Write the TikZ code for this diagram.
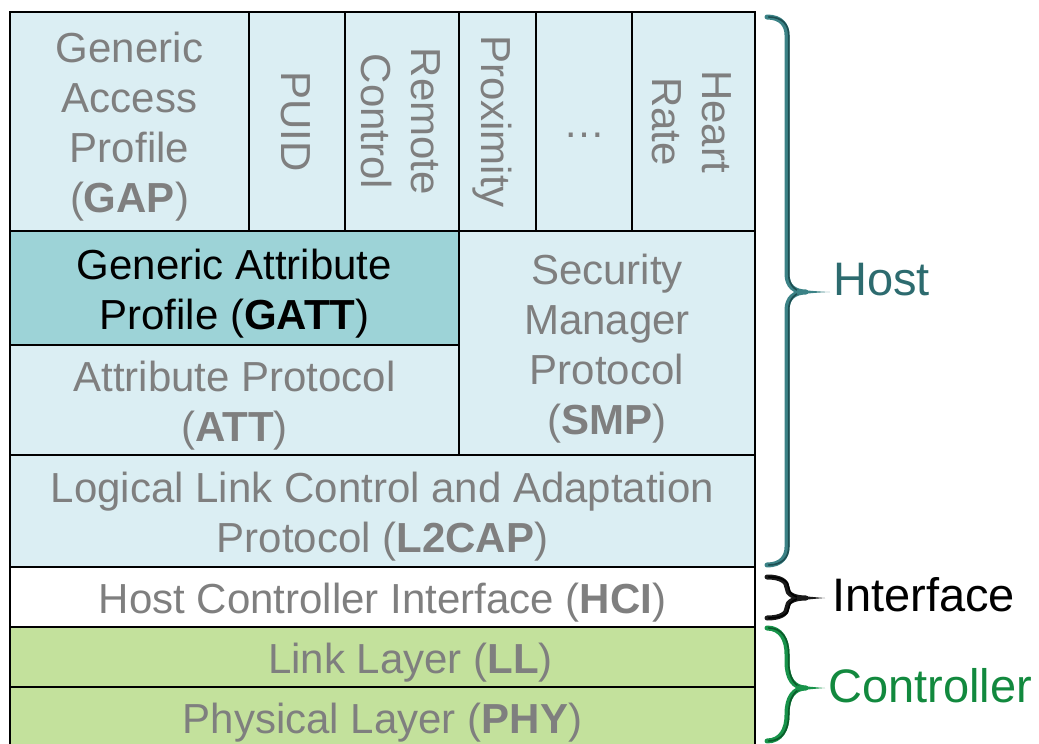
\documentclass[tikz,border=0pt]{standalone}
\usepackage{fontspec}
\setmainfont{Liberation Sans}

\definecolor{cellblue}{HTML}{DBEEF3}
\definecolor{gattfill}{HTML}{9DD3D7}
\definecolor{ctrlgreen}{HTML}{C3E19C}
\definecolor{txtgray}{HTML}{7F7F7F}
\definecolor{hostbrace}{HTML}{3B8286}
\definecolor{hostedge}{HTML}{1D4E51}
\definecolor{hosttext}{HTML}{2D6B6F}
\definecolor{ifbrace}{HTML}{1A1A1A}
\definecolor{ifedge}{HTML}{000000}
\definecolor{ctrlbrace}{HTML}{17934A}
\definecolor{ctrledge}{HTML}{0A5A29}
\definecolor{ctrltext}{HTML}{12893E}

% struts giving every text block the same top and bottom
\newcommand\firstln{\rule{0pt}{41pt}}
\newcommand\lastln{\rule[-9pt]{0pt}{9pt}}

% right curly brace: #1 colour, #2 edge colour, #3 top y, #4 tip y, #5 bottom y,
% #6 tip x, #7 largest bend radius
\newcommand\curlybrace[7]{%
  \pgfmathsetmacro\bra{min(#7,(#4-#3)/2)}%
  \pgfmathsetmacro\brb{min(#7,(#5-#4)/2)}%
  \draw[#1, line width=5pt, line cap=round, line join=round]
    (767,#3) .. controls (781,#3) and (787,#3+0.45*\bra) .. (787,#3+\bra)
    -- (787,#4-\bra) .. controls (787,#4-0.35*\bra) and (794,#4) .. (806,#4)
    .. controls (794,#4) and (787,#4+0.35*\brb) .. (787,#4+\brb)
    -- (787,#5-\brb) .. controls (787,#5-0.45*\brb) and (781,#5) .. (767,#5);
  \draw[#2, line width=1.6pt, line cap=round, line join=round, xshift=1.7pt]
    (767,#3) .. controls (781,#3) and (787,#3+0.45*\bra) .. (787,#3+\bra)
    -- (787,#4-\bra) .. controls (787,#4-0.35*\bra) and (794,#4) .. (804,#4)
    .. controls (794,#4) and (787,#4+0.35*\brb) .. (787,#4+\brb)
    -- (787,#5-\brb) .. controls (787,#5-0.45*\brb) and (781,#5) .. (767,#5);
  \fill[#1] (797,#4-2.6) .. controls (810,#4-1.2) and (818,#4-0.5) .. (#6,#4)
    .. controls (818,#4+0.5) and (810,#4+1.2) .. (797,#4+2.6) -- cycle;
}

\begin{document}
\begin{tikzpicture}[x=1pt, y=-1pt,
  cell/.style={draw=black, line width=2.2pt, inner sep=0pt, align=center,
    text=txtgray, font=\fontsize{42}{50}\selectfont},
  upright/.style={cell, rotate=-90},
  sidelabel/.style={anchor=base west, inner sep=0pt, font=\fontsize{47}{56}\selectfont}]

\useasboundingbox (0,0) rectangle (1039,744);
\clip (0,0) rectangle (1039,744);

% top row: profiles
\node[cell, fill=cellblue, minimum width=239, minimum height=219] (gap) at (129.5,121.5)
  {\firstln Generic\\Access\\Profile\\(\textbf{GAP})\lastln};
\node[upright, fill=cellblue, minimum width=219, minimum height=96] (puid) at (297,121.5)
  {\firstln PUID\lastln};
\node[upright, fill=cellblue, minimum width=219, minimum height=114] (remote) at (402,121.5)
  {\firstln Remote\\Control\lastln};
\node[upright, fill=cellblue, minimum width=219, minimum height=77] (prox) at (497.5,121.5)
  {\firstln Proximity\lastln};
\node[cell, fill=cellblue, minimum width=96, minimum height=219] (more) at (584,121.5)
  {\firstln …\lastln};
\node[upright, fill=cellblue, minimum width=219, minimum height=123] (heart) at (693.5,121.5)
  {\firstln Heart\\Rate\lastln};

% GATT / ATT / SMP
\node[cell, fill=gattfill, text=black, minimum width=449, minimum height=114] (gatt) at (234.5,288)
  {\firstln Generic Attribute\\Profile (\textbf{GATT})\lastln};
\node[cell, fill=cellblue, minimum width=449, minimum height=110] (att) at (234.5,400)
  {\firstln Attribute Protocol\\(\textbf{ATT})\lastln};
\node[cell, fill=cellblue, minimum width=296, minimum height=224] (smp) at (607,343)
  {\firstln Security\\Manager\\Protocol\\(\textbf{SMP})\lastln};

% full-width layers
\node[cell, fill=cellblue, minimum width=745, minimum height=112] (l2cap) at (382.5,511)
  {\firstln Logical Link Control and Adaptation\\Protocol (\textbf{L2CAP})\lastln};
\node[cell, fill=white, minimum width=745, minimum height=60] (hci) at (382.5,597)
  {\firstln Host Controller Interface (\textbf{HCI})\lastln};
\node[cell, fill=ctrlgreen, minimum width=745, minimum height=60] (ll) at (382.5,657)
  {\hspace*{56pt}\firstln Link Layer (\textbf{LL})\lastln};
\node[cell, fill=ctrlgreen, minimum width=745, minimum height=60] (phy) at (382.5,717)
  {\firstln Physical Layer (\textbf{PHY})\lastln};

% braces and their labels
\curlybrace{hostbrace}{hostedge}{17}{292}{565}{830}{18}
\curlybrace{ifbrace}{ifedge}{577}{598}{618}{825}{18}
\curlybrace{ctrlbrace}{ctrledge}{628}{688}{741}{825}{26}

\node[sidelabel, text=hosttext] (host) at (833,295) {Host};
\node[sidelabel, text=black] (iface) at (832,611) {Interface};
\node[sidelabel, text=ctrltext] (ctrl) at (828,702) {Controller};
\end{tikzpicture}
\end{document}
